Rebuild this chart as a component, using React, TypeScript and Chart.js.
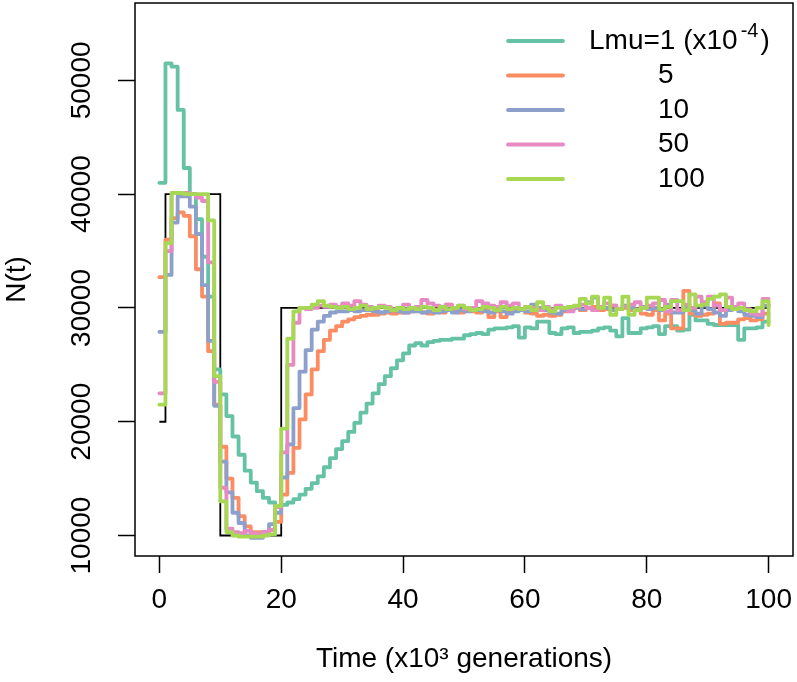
import React, { useEffect, useRef } from 'react';
import { Chart, registerables } from 'chart.js';

Chart.register(...registerables);

const FONT = '"Liberation Sans", Arial, Helvetica, sans-serif';

// time in units of 1000 generations
const timeK = [
  0, 1, 2, 3, 4, 5, 6, 7, 8, 9,
  10, 11, 12, 13, 14, 15, 16, 17, 18, 19,
  20, 21, 22, 23, 24, 25, 26, 27, 28, 29,
  30, 31, 32, 33, 34, 35, 36, 37, 38, 39,
  40, 41, 42, 43, 44, 45, 46, 47, 48, 49,
  50, 51, 52, 53, 54, 55, 56, 57, 58, 59,
  60, 61, 62, 63, 64, 65, 66, 67, 68, 69,
  70, 71, 72, 73, 74, 75, 76, 77, 78, 79,
  80, 81, 82, 83, 84, 85, 86, 87, 88, 89,
  90, 91, 92, 93, 94, 95, 96, 97, 98, 99,
  100,
];

const lmu1 = [
  41000, 51500, 51200, 47400, 42300, 40000, 37800, 34500, 31000, 24600,
  22400, 20500, 18700, 17100, 15700, 14650, 13900, 13300, 12900, 12600,
  12700, 12900, 13200, 13600, 14100, 14600, 15200, 16000, 16800, 17600,
  18300, 19100, 19900, 20800, 21600, 22500, 23300, 24000, 24700, 25400,
  26000, 26700, 26900, 26700, 27000, 27100, 27200, 27200, 27300, 27300,
  27600, 27700, 27800, 27700, 28100, 28200, 28200, 28300, 28400, 27400,
  28300, 28200, 28800, 28800, 27800, 27700, 28200, 28300, 27800, 27900,
  27900, 28000, 28200, 28300, 28000, 27500, 29100, 27800, 27800, 28200,
  28300, 28400, 27700, 28400, 28400, 28000, 28100, 29400, 28900, 28900,
  28600, 28500, 28500, 28500, 28500, 27200, 28200, 28200, 28300, 28800,
  28800,
];

const lmu5 = [
  32700, 36000, 37900, 38400, 38100, 36300, 33400, 31000, 26200, 21500,
  17800, 15000, 13300, 11700, 10800, 10300, 10300, 10300, 10500, 11200,
  13600, 15500, 17700, 20200, 22400, 24600, 26200, 27200, 28000, 28400,
  28800, 29000, 29200, 29300, 29400, 29400, 29500, 29600, 29500, 29600,
  29600, 29700, 29800, 29600, 29500, 29800, 29600, 30300, 29700, 29600,
  29800, 29700, 29600, 29800, 29200, 29700, 29200, 29700, 29800, 29800,
  29600, 29500, 29300, 29400, 29300, 29400, 29700, 29900, 30000, 29800,
  30000, 30100, 29800, 29900, 30200, 29900, 30000, 29800, 29900, 29500,
  29400, 29800, 28900, 29500, 28200, 28200, 31500, 29500, 29300, 29400,
  29500, 30400, 28600, 28700, 28700, 29000, 29100, 28900, 29000, 29500,
  29500,
];

const lmu10 = [
  27900, 32900, 37500, 39800, 39800, 38900, 36500, 32000, 27100, 21400,
  16500, 13800, 12000, 11100, 10000, 9800, 9800, 10300, 11000, 12000,
  15100, 18000, 21200, 24400, 26300, 28100, 28800, 29300, 29600, 29700,
  29700, 29800, 29700, 29800, 29800, 29700, 29600, 29700, 29800, 29700,
  29600, 29700, 29700, 29600, 29700, 29600, 29700, 29800, 29600, 29800,
  29700, 29900, 29800, 29700, 29600, 29800, 29700, 29500, 29700, 29800,
  29700, 30300, 30000, 29800, 29600, 29500, 29800, 29900, 30000, 29900,
  30500, 30900, 30100, 30000, 29800, 29900, 30200, 30000, 29800, 30100,
  29900, 30000, 29800, 30300, 29600, 29600, 30100, 29800, 29500, 30200,
  29900, 29600, 29300, 29800, 29900, 29700, 29400, 29300, 29200, 30200,
  30300,
];

const lmu50 = [
  22500, 35000, 40100, 40100, 40100, 40000, 39700, 39400, 34000, 23500,
  14200, 10600, 10300, 10200, 10400, 10200, 10100, 10300, 10500, 12500,
  17300, 25000, 28700, 30000, 29900, 30000, 30200, 30100, 30300, 30100,
  30400, 30200, 30600, 30300, 30100, 30000, 30200, 30100, 29900, 30000,
  30300, 30000, 30100, 30700, 30400, 30200, 30000, 30300, 30000, 30200,
  29900, 30000, 30600, 30400, 30200, 30100, 30500, 30200, 30400, 29900,
  30100, 30000, 29800, 30100, 29900, 30200, 30000, 29700, 30100, 30300,
  30000, 29800, 30100, 30400, 30200, 29900, 30100, 30300, 30500, 30000,
  30200, 30400, 30700, 29700, 30700, 29800, 30300, 30000, 31000, 30500,
  31000, 30200, 29800, 30900, 30100, 30400, 29900, 29500, 29400, 30800,
  30800,
];

const lmu100 = [
  21500, 35700, 40100, 40100, 40000, 40000, 40000, 40000, 37700, 24000,
  13000, 10300, 10000, 9900, 9900, 9900, 9900, 10000, 10100, 12600,
  19400, 27300, 29700, 30000, 30000, 30300, 30600, 30200, 30100, 30000,
  30100, 29900, 30000, 30200, 29900, 30000, 30100, 30000, 29800, 30000,
  29900, 30000, 29900, 30100, 30000, 29800, 30100, 29900, 30000, 30200,
  30000, 29800, 29900, 30100, 30000, 29800, 30100, 29900, 30000, 29900,
  30100, 29800, 30500, 30000, 29700, 30000, 30000, 30100, 30200, 30800,
  30400, 31000, 30000, 30900, 29400, 29900, 31000, 29400, 29800, 30000,
  30900, 30900, 29900, 30100, 30600, 30600, 29800, 31200, 30200, 30300,
  30800, 31000, 31200, 30100, 29900, 30000, 29800, 29700, 30000, 30600,
  28500,
];

// true population history (black step line)
const trueTime = [0, 1, 10, 20, 100];
const trueN = [20000, 40000, 10000, 30000, 30000];

const xTickValues = [0, 20, 40, 60, 80, 100];
const yTickValues = [10000, 20000, 30000, 40000, 50000];

const seriesLabels = ['Lmu=1', '5', '10', '50', '100'];
const legendUnitBase = '(x10';
const legendUnitExp = '-4';
const xTitle = 'Time (x10\u00B3 generations)';
const yTitle = 'N(t)';

const seriesData = [lmu1, lmu5, lmu10, lmu50, lmu100];
const seriesColors = ['#66C2A5', '#FC8D62', '#8DA0CB', '#E78AC3', '#A6D854'];

const framePlugin = {
  id: 'rFrame',
  afterDraw(chart: any) {
    const { ctx, chartArea: a } = chart;
    ctx.save();
    ctx.strokeStyle = '#000';
    ctx.lineWidth = 1.5;
    ctx.strokeRect(a.left, a.top, a.right - a.left, a.bottom - a.top);
    ctx.restore();
  },
};

const legendPlugin = {
  id: 'rLegend',
  afterDatasetsDraw(chart: any) {
    const ctx = chart.ctx;
    const lx0 = 508;
    const lx1 = 563;
    const tx = 589;
    const numX = 658;
    const y0 = 41;
    const dy = 34.5;
    ctx.save();
    ctx.textBaseline = 'middle';
    ctx.textAlign = 'left';
    seriesLabels.forEach((lab, k) => {
      const y = y0 + k * dy;
      ctx.strokeStyle = seriesColors[k];
      ctx.lineWidth = 3.8;
      ctx.lineCap = 'round';
      ctx.beginPath();
      ctx.moveTo(lx0, y);
      ctx.lineTo(lx1, y);
      ctx.stroke();
      ctx.fillStyle = '#000';
      ctx.font = `28px ${FONT}`;
      if (k === 0) {
        const main = `${lab} ${legendUnitBase}`;
        ctx.fillText(main, tx, y);
        const w = ctx.measureText(main).width;
        ctx.font = `20px ${FONT}`;
        ctx.fillText(legendUnitExp, tx + w + 3, y - 10);
        const w2 = ctx.measureText(legendUnitExp).width;
        ctx.font = `28px ${FONT}`;
        ctx.fillText(')', tx + w + 3 + w2 + 2, y);
      } else {
        ctx.fillText(lab, numX, y);
      }
    });
    ctx.restore();
  },
};

export default function App() {
  const canvasRef = useRef<HTMLCanvasElement | null>(null);

  useEffect(() => {
    document.body.style.margin = '0';
    const canvas = canvasRef.current;
    if (!canvas) return;

    const datasets: any[] = [
      {
        label: 'true N',
        data: trueTime.map((t, i) => ({ x: t, y: trueN[i] })),
        borderColor: '#000000',
        borderWidth: 1.8,
        stepped: true,
        pointRadius: 0,
        fill: false,
        order: 10,
      },
      ...seriesData.map((d, k) => ({
        label: seriesLabels[k],
        data: d,
        borderColor: seriesColors[k],
        backgroundColor: seriesColors[k],
        borderWidth: 3.8,
        stepped: true,
        pointRadius: 0,
        fill: false,
        borderJoinStyle: 'round',
        borderCapStyle: 'round',
        order: 5 - k,
      })),
    ];

    const chart = new Chart(canvas, {
      type: 'line',
      data: { labels: timeK, datasets },
      options: {
        animation: false,
        responsive: false,
        devicePixelRatio: 1,
        layout: { padding: { top: 3, right: 4, bottom: 0, left: 0 } },
        plugins: {
          legend: { display: false },
          tooltip: { enabled: false },
        },
        scales: {
          x: {
            type: 'linear',
            min: -4,
            max: 104,
            afterBuildTicks: (s: any) => {
              s.ticks = xTickValues.map((v) => ({ value: v }));
            },
            afterFit: (s: any) => {
              s.height = 126;
              s.paddingLeft = 0;
              s.paddingRight = 0;
            },
            grid: {
              display: true,
              drawOnChartArea: false,
              drawTicks: true,
              tickLength: 17,
              tickColor: '#000',
              tickWidth: 1.5,
            },
            border: { display: false },
            ticks: {
              autoSkip: false,
              maxRotation: 0,
              minRotation: 0,
              padding: 10,
              color: '#000',
              font: { family: FONT, size: 28 },
              callback: (v: any) => String(v),
            },
            title: {
              display: true,
              text: xTitle,
              color: '#000',
              font: { family: FONT, size: 28 },
              padding: { top: 0, bottom: 6 },
            },
          },
          y: {
            type: 'linear',
            min: 8200,
            max: 56800,
            afterBuildTicks: (s: any) => {
              s.ticks = yTickValues.map((v) => ({ value: v }));
            },
            afterFit: (s: any) => {
              s.width = 135;
              s.paddingTop = 0;
              s.paddingBottom = 0;
            },
            grid: {
              display: true,
              drawOnChartArea: false,
              drawTicks: true,
              tickLength: 17,
              tickColor: '#000',
              tickWidth: 1.5,
            },
            border: { display: false },
            ticks: {
              autoSkip: false,
              minRotation: 90,
              maxRotation: 90,
              crossAlign: 'center',
              padding: -3,
              color: '#000',
              font: { family: FONT, size: 28 },
              callback: (v: any) => String(v),
            },
            title: {
              display: true,
              text: yTitle,
              color: '#000',
              font: { family: FONT, size: 28 },
              padding: { top: 0, bottom: 0 },
            },
          },
        },
      } as any,
      plugins: [framePlugin, legendPlugin],
    });

    return () => {
      chart.destroy();
    };
  }, []);

  return (
    <div style={{ width: 797, height: 682 }}>
      <canvas ref={canvasRef} width={797} height={682} style={{ display: 'block' }} />
    </div>
  );
}
